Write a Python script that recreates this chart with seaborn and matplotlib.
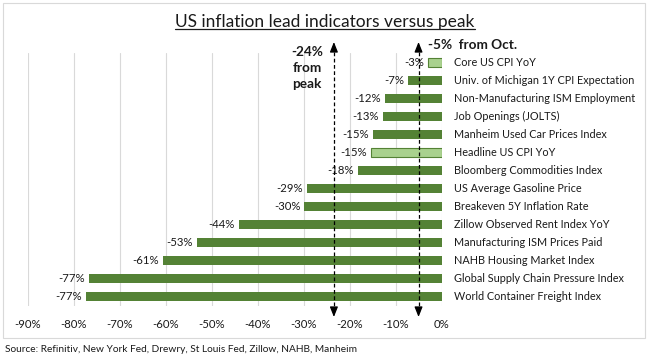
import matplotlib
matplotlib.use("Agg")
import matplotlib.pyplot as plt
from matplotlib.lines import Line2D
from matplotlib.patches import Rectangle
import seaborn as sns
import pandas as pd

# ---------------- data ----------------
indicators = [
    "Core US CPI YoY",
    "Univ. of Michigan 1Y CPI Expectation",
    "Non-Manufacturing ISM Employment",
    "Job Openings (JOLTS)",
    "Manheim Used Car Prices Index",
    "Headline US CPI YoY",
    "Bloomberg Commodities Index",
    "US Average Gasoline Price",
    "Breakeven 5Y Inflation Rate",
    "Zillow Observed Rent Index YoY",
    "Manufacturing ISM Prices Paid",
    "NAHB Housing Market Index",
    "Global Supply Chain Pressure Index",
    "World Container Freight Index",
]
change_from_peak = [-3.0, -7.3, -12.4, -12.8, -15.0, -15.4, -18.3,
                    -29.4, -29.9, -44.2, -53.2, -60.7, -76.7, -77.4]
highlighted = ["Core US CPI YoY", "Headline US CPI YoY"]
x_ticks = [-90, -80, -70, -60, -50, -40, -30, -20, -10, 0]
x_tick_labels = [f"{t}%" for t in x_ticks]
peak_line = -23.5
oct_line = -5.1

title = "US inflation lead indicators versus peak"
peak_note = "-24%\nfrom\npeak"
oct_note = "-5%  from Oct."
source = "Source: Refinitiv, New York Fed, Drewry, St Louis Fed, Zillow, NAHB, Manheim"

DARK = "#548235"
LIGHT = "#A9D18E"

df = pd.DataFrame({"indicator": indicators, "value": change_from_peak})
palette = {k: (LIGHT if k in highlighted else DARK) for k in indicators}

sns.set_theme(style="white")
plt.rcParams["font.family"] = ["Lato", "DejaVu Sans"]

W, H = 648, 358
fig = plt.figure(figsize=(W / 100, H / 100), dpi=100)
ax_l, ax_r, ax_t, ax_b = 28, 442, 53, 306
ax = fig.add_axes([ax_l / W, 1 - ax_b / H, (ax_r - ax_l) / W, (ax_b - ax_t) / H])

sns.barplot(data=df, x="value", y="indicator", hue="indicator", palette=palette,
            orient="h", width=0.5, legend=False, ax=ax, saturation=1)
for patch, name in zip(ax.patches, indicators):
    if name in highlighted:
        patch.set_edgecolor(DARK)
        patch.set_linewidth(0.8)
    else:
        patch.set_linewidth(0)

ax.set_xlim(-90, 0)
ax.set_ylim(len(indicators) - 0.5, -0.5)
ax.set_xticks(x_ticks)
ax.set_xticklabels(x_tick_labels, fontsize=8.2, color="#1a1a1a")
ax.tick_params(axis="x", length=0, pad=9)
ax.set_yticks([])
ax.set_xlabel("")
ax.set_ylabel("")
for s in ax.spines.values():
    s.set_visible(False)
ax.grid(axis="x", color="#D9D9D9", linewidth=0.8)
ax.set_axisbelow(True)

# value labels and category labels
for i, (name, v) in enumerate(zip(indicators, change_from_peak)):
    ax.annotate(f"{round(v)}%", xy=(v, i), xytext=(-3, 0), textcoords="offset points",
                ha="right", va="center", fontsize=8.2, color="#1a1a1a", annotation_clip=False)
    ax.annotate(name, xy=(0, i), xytext=(8.8, 0), textcoords="offset points",
                ha="left", va="center", fontsize=7.8, color="#1a1a1a", annotation_clip=False)

# dashed reference lines with arrows
trans = ax.get_xaxis_transform()
y_top = (ax_b - 42) / (ax_b - ax_t)
y_bot = (ax_b - 317) / (ax_b - ax_t)
for xv in (peak_line, oct_line):
    ax.plot([xv, xv], [y_bot + 0.02, y_top - 0.02], transform=trans, color="black",
            linestyle=(0, (3, 2)), linewidth=0.9, clip_on=False, zorder=5)
    for tip, d in ((y_top, -0.035), (y_bot, 0.035)):
        ax.annotate("", xy=(xv, tip), xycoords=trans, xytext=(xv, tip + d), textcoords=trans,
                    arrowprops=dict(arrowstyle="-|>,head_length=0.5,head_width=0.2",
                                    color="black", lw=0.9, shrinkA=0, shrinkB=0),
                    annotation_clip=False, zorder=6)

fig.text(307 / W, 1 - 68 / H, peak_note, ha="center", va="center", fontsize=9.8,
         fontweight="bold", linespacing=1.4, color="#1a1a1a")
fig.text(428 / W, 1 - 45 / H, oct_note, ha="left", va="center", fontsize=9.8,
         fontweight="bold", color="#1a1a1a")

# title with underline
t = fig.text(325 / W, 1 - 22 / H, title, ha="center", va="center", fontsize=12.5, color="#1a1a1a")
fig.canvas.draw()
bb = t.get_window_extent()
fig.add_artist(Line2D([bb.x0 / W, bb.x1 / W], [(bb.y0 + 1.5) / H, (bb.y0 + 1.5) / H],
                      transform=fig.transFigure, color="#1a1a1a", linewidth=0.9))

# source and frame
fig.text(5 / W, 1 - 350 / H, source, ha="left", va="center", fontsize=7.3, color="#1a1a1a")
fig.add_artist(Rectangle((3 / W, 1 - 338 / H), 642 / W, 335 / H, transform=fig.transFigure,
                         fill=False, edgecolor="#D9D9D9", linewidth=0.8))

fig.savefig("out.png", dpi=100)
